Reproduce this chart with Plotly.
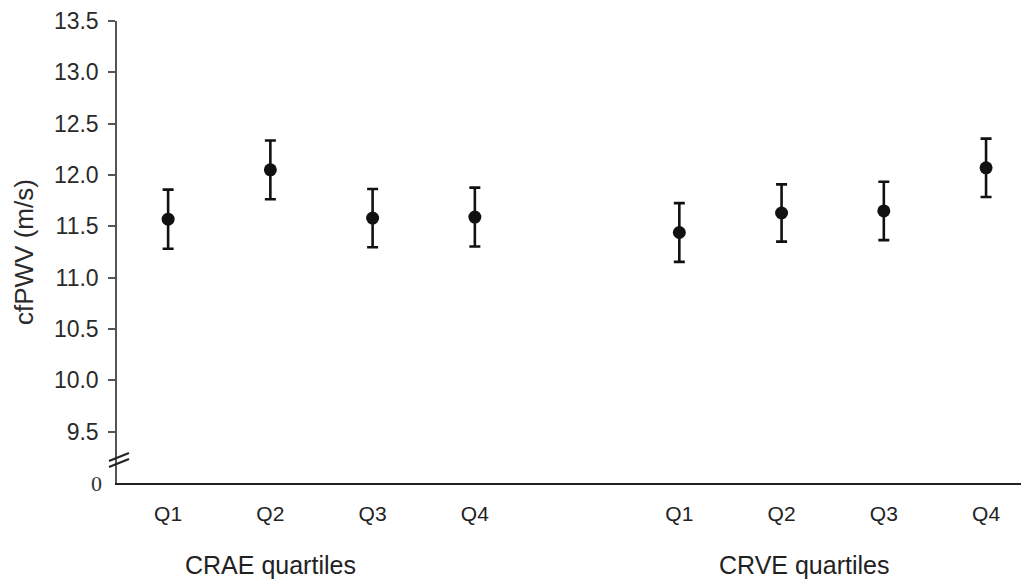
import plotly.graph_objects as go

groups = ["CRAE quartiles", "CRVE quartiles"]
quartiles = ["Q1", "Q2", "Q3", "Q4"]
crae_mean = [11.57, 12.05, 11.58, 11.59]
crae_err = [0.288, 0.286, 0.284, 0.287]
crve_mean = [11.44, 11.63, 11.65, 12.07]
crve_err = [0.286, 0.279, 0.284, 0.284]
crae_pos = [1, 2, 3, 4]
crve_pos = [6, 7, 8, 9]
y_ticks = [9.5, 10.0, 10.5, 11.0, 11.5, 12.0, 12.5, 13.0, 13.5]

FONT = "Liberation Sans, Arial, sans-serif"
INK = "#111111"

fig = go.Figure()
for pos, mean, err in [(crae_pos, crae_mean, crae_err), (crve_pos, crve_mean, crve_err)]:
    fig.add_trace(go.Scatter(
        x=pos, y=mean, mode="markers",
        marker=dict(color=INK, size=13),
        error_y=dict(type="data", array=err, visible=True, color=INK, thickness=2.6, width=5.5),
        showlegend=False, hoverinfo="skip",
    ))

# page body has an 8px margin: figure is drawn from (8, 8)
fig.update_layout(
    width=1021, height=574,
    margin=dict(l=109, r=0, t=11, b=99),
    paper_bgcolor="white", plot_bgcolor="white",
    font=dict(family=FONT, color="#222222"),
)
fig.update_xaxes(
    range=[0.5, 9.42], showgrid=False, zeroline=False,
    showline=True, linecolor="#222222", linewidth=2,
    tickvals=crae_pos + crve_pos, ticktext=quartiles + quartiles,
    ticks="", tickfont=dict(size=21, family=FONT, color="#222222"),
    ticklabelstandoff=11,
)
fig.update_yaxes(
    range=[9.0, 13.5], showgrid=False, zeroline=False,
    showline=True, linecolor="#555555", linewidth=1.5,
    tickvals=y_ticks, ticktext=[f"{v:.1f}" for v in y_ticks],
    ticks="outside", ticklen=7, tickwidth=1.5, tickcolor="#555555",
    tickfont=dict(size=23, family=FONT, color="#2a2a2a"),
    ticklabelstandoff=5, ticklabeloverflow="allow",
)

# "0" baseline label (axis break)
fig.add_annotation(x=0, xref="paper", xanchor="right", xshift=-13,
                   y=9.0, yref="y", yanchor="middle", showarrow=False,
                   text="0", font=dict(size=22, family="Liberation Serif, Times New Roman, serif", color="#333333"))
# axis break marks
for dy in [0, 6]:
    fig.add_shape(type="line", xref="paper", yref="y",
                  xsizemode="pixel", ysizemode="pixel", xanchor=0, yanchor=9.0,
                  x0=-8, x1=12, y0=22 - dy, y1=30 - dy,
                  line=dict(color="#222222", width=2))

# y-axis title
fig.add_annotation(x=0, xref="paper", xanchor="center", xshift=-93, y=0.5, yref="paper",
                   yanchor="middle", textangle=-90, showarrow=False, text="cfPWV (m/s)",
                   font=dict(size=26, family=FONT, color="#2a2a2a"))

# group labels
for g, xc in zip(groups, [2.0, 7.22]):
    fig.add_annotation(x=xc, xref="x", y=0, yref="paper", yshift=-82,
                       yanchor="middle", showarrow=False, text=g,
                       font=dict(size=25, family=FONT, color="#222222"))

fig.write_html("out.html")
